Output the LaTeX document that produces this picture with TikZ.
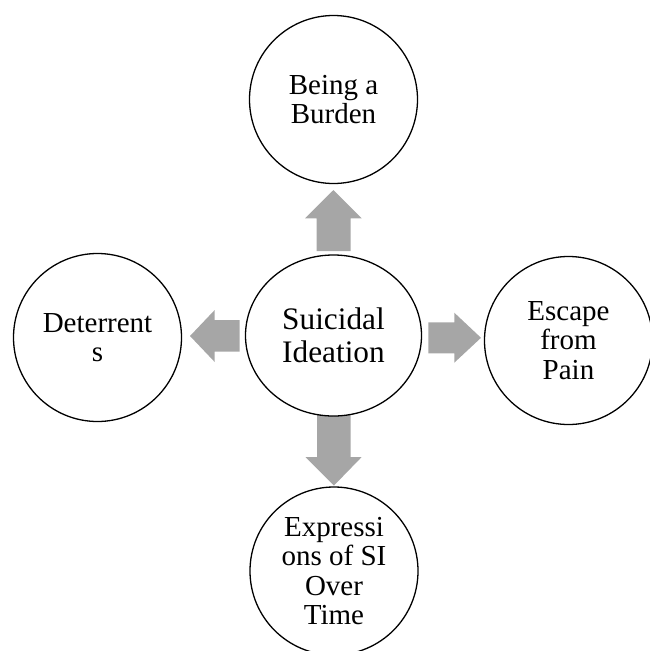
\documentclass[tikz,border=0pt]{standalone}
\usepackage{fontspec}
\setmainfont{Liberation Serif}
\usetikzlibrary{shapes.geometric}
\definecolor{arrowgrey}{HTML}{A6A6A6}
\tikzset{
  bubble/.style={circle, draw=black, line width=1.3pt, fill=white, minimum size=168pt, inner sep=0pt, align=center,
    font=\fontsize{29}{29.5}\selectfont},
  hub/.style={ellipse, draw=black, line width=1.3pt, fill=white, minimum width=176pt, minimum height=161pt, inner sep=0pt, align=center,
    font=\fontsize{31.3}{33}\selectfont},
  blockarrow/.style={fill=arrowgrey, draw=none}
}
\begin{document}
\begin{tikzpicture}[x=1pt, y=-1pt]
\useasboundingbox (0,0) rectangle (650,651);
% block arrows
\fill[blockarrow] (316.7,251) -- (316.7,218.3) -- (305,218.3) -- (333.5,190) -- (361.7,218.3) -- (350.7,218.3) -- (350.7,251) -- cycle;
\fill[blockarrow] (317,414.5) -- (317,457) -- (305.5,457) -- (334,485.5) -- (361.7,457) -- (350.7,457) -- (350.7,414.5) -- cycle;
\fill[blockarrow] (239.6,320) -- (214.7,320) -- (214.7,310) -- (190,336) -- (214.7,362) -- (214.7,351.5) -- (239.6,351.5) -- cycle;
\fill[blockarrow] (428.3,322.3) -- (454.3,322.3) -- (454.3,312.7) -- (481,337.8) -- (454.3,362.7) -- (454.3,353.3) -- (428.3,353.3) -- cycle;
% nodes
\node[hub] (si) at (333.5,335.5) {Suicidal\\Ideation};
\node[bubble] (burden) at (333.5,99.5) {Being a\\Burden};
\node[bubble] (deter) at (97.5,337.5) {Deterrent\\s};
\node[bubble] (escape) at (568.5,340.5) {Escape\\from\\Pain};
\node[bubble] (expr) at (334,571) {Expressi\\ons of SI\\Over\\Time};
\end{tikzpicture}
\end{document}
